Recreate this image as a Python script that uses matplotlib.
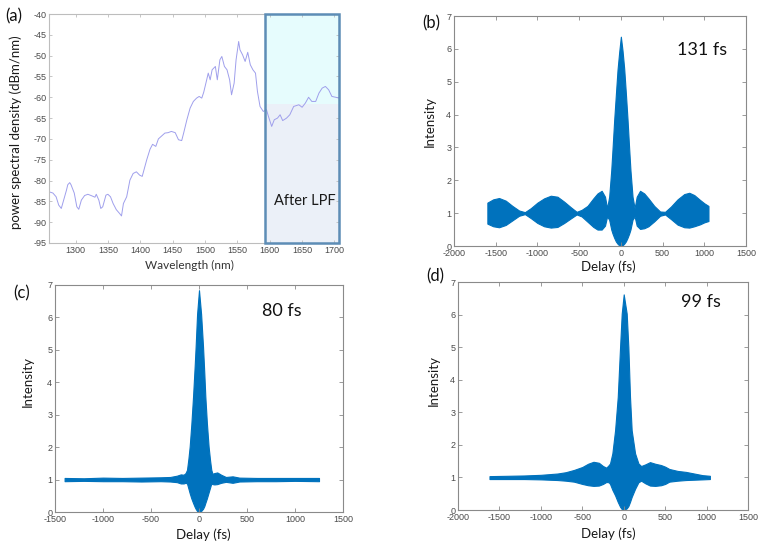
import matplotlib.pyplot as plt

plt.rcParams['axes.unicode_minus'] = False

# (a) spectrum after the fibre
wavelength = [1259, 1265, 1270, 1274, 1278, 1280, 1286, 1288, 1291, 1293, 1298, 1302, 1305,
              1309, 1314, 1319, 1324, 1330, 1332, 1336, 1339, 1342, 1347, 1350, 1354, 1358,
              1363, 1368, 1371, 1374, 1379, 1384, 1389, 1394, 1399, 1403, 1410, 1415, 1419,
              1424, 1428, 1433, 1438, 1443, 1448, 1454, 1459, 1464, 1467, 1472, 1477, 1482,
              1487, 1491, 1495, 1498, 1502, 1505, 1508, 1511, 1516, 1519, 1523, 1526, 1530,
              1534, 1538, 1541, 1545, 1548, 1552, 1554, 1558, 1562, 1566, 1570, 1574, 1578,
              1581, 1585, 1590, 1595, 1598, 1603, 1607, 1612, 1616, 1620, 1626, 1631, 1637,
              1645, 1650, 1655, 1660, 1665, 1671, 1676, 1681, 1686, 1691, 1696, 1702, 1707]
psd = [-82.7, -83.0, -83.9, -85.9, -86.7, -85.6, -82.3, -81.0, -80.5, -81.0, -83.0, -86.3, -86.9,
       -84.7, -83.6, -83.3, -83.6, -84.0, -83.3, -84.7, -86.7, -86.3, -83.5, -83.3, -83.9, -85.5,
       -87.0, -87.9, -88.5, -85.5, -83.9, -79.9, -78.3, -77.9, -78.7, -79.0, -75.0, -72.5, -71.3,
       -71.8, -70.0, -69.3, -68.6, -68.5, -68.2, -68.5, -70.2, -70.4, -68.6, -65.4, -62.6, -61.0,
       -60.2, -59.8, -60.2, -58.8, -56.2, -54.2, -55.8, -53.4, -52.6, -55.8, -51.0, -50.2, -52.6,
       -53.4, -55.8, -59.4, -56.6, -51.0, -46.6, -48.6, -49.8, -51.4, -49.2, -52.2, -53.4, -54.2,
       -58.6, -62.2, -63.4, -63.0, -64.6, -67.0, -65.4, -65.0, -64.2, -65.6, -65.0, -64.2, -62.2,
       -61.8, -62.4, -61.4, -60.0, -61.0, -61.0, -59.0, -57.8, -57.4, -58.2, -59.8, -60.0, -60.2]
lpf_start = 1592
lpf_split = -61.6

# (b) 131 fs autocorrelation: upper / lower envelope of the fringes
delay_b = [-1600, -1530, -1460, -1380, -1300, -1220, -1150, -1080, -1000, -920, -840, -760,
           -680, -600, -530, -470, -400, -330, -280, -230, -190, -165, -140, -115, -100, -80,
           -60, -40, -20, 0, 20, 40, 60, 80, 100, 115, 140, 165, 190, 230, 280, 330, 400, 470,
           530, 600, 680, 760, 820, 880, 950, 1000, 1050]
upper_b = [1.32, 1.42, 1.46, 1.38, 1.22, 1.08, 1.03, 1.15, 1.32, 1.45, 1.53, 1.50,
           1.35, 1.18, 1.04, 1.10, 1.22, 1.45, 1.60, 1.68, 1.50, 1.15, 1.50, 2.31, 2.95, 3.83,
           4.60, 5.36, 5.90, 6.37, 5.95, 5.40, 4.65, 3.85, 2.95, 2.31, 1.50, 1.15, 1.50, 1.68,
           1.60, 1.45, 1.22, 1.05, 1.04, 1.20, 1.42, 1.58, 1.62, 1.55, 1.40, 1.30, 1.22]
lower_b = [0.68, 0.60, 0.57, 0.64, 0.78, 0.92, 0.97, 0.85, 0.70, 0.60, 0.56, 0.58,
           0.70, 0.84, 0.96, 0.90, 0.74, 0.58, 0.50, 0.50, 0.62, 0.90, 0.80, 0.50, 0.38, 0.25,
           0.14, 0.07, 0.02, 0.00, 0.02, 0.07, 0.14, 0.25, 0.38, 0.50, 0.80, 0.90, 0.62, 0.52,
           0.54, 0.60, 0.75, 0.92, 0.96, 0.82, 0.65, 0.57, 0.56, 0.60, 0.66, 0.72, 0.76]

# (c) 80 fs autocorrelation
delay_c = [-1400, -1200, -1000, -800, -600, -400, -300, -230, -190, -160, -140, -125, -110,
           -97, -80, -62, -45, -35, -20, 0, 22, 42, 55, 66, 82, 100, 115, 128, 140, 160, 190,
           230, 280, 350, 420, 600, 800, 1000, 1250]
upper_c = [1.05, 1.04, 1.06, 1.05, 1.06, 1.07, 1.08, 1.12, 1.16, 1.15, 1.20, 1.30, 1.65,
           2.02, 2.70, 3.56, 4.50, 5.10, 6.10, 6.84, 6.10, 5.10, 4.30, 3.56, 2.75, 2.02, 1.60,
           1.30, 1.18, 1.20, 1.22, 1.15, 1.08, 1.10, 1.06, 1.05, 1.05, 1.05, 1.05]
lower_c = [0.95, 0.96, 0.95, 0.95, 0.94, 0.95, 0.94, 0.92, 0.88, 0.88, 0.90, 0.88, 0.72,
           0.58, 0.42, 0.28, 0.16, 0.10, 0.03, 0.00, 0.03, 0.10, 0.18, 0.28, 0.42, 0.60, 0.75,
           0.88, 0.86, 0.85, 0.86, 0.90, 0.93, 0.90, 0.94, 0.95, 0.95, 0.96, 0.95]

# (d) 99 fs autocorrelation
delay_d = [-1620, -1400, -1200, -1000, -800, -700, -600, -500, -430, -365, -300, -250, -210,
           -180, -165, -137, -104, -72, -44, -24, 0, 36, 56, 76, 96, 137, 177, 210, 260, 317,
           380, 450, 500, 550, 650, 750, 850, 950, 1040]
upper_d = [1.04, 1.05, 1.06, 1.08, 1.12, 1.16, 1.23, 1.32, 1.42, 1.48, 1.45, 1.35, 1.30,
           1.38, 1.43, 1.74, 2.45, 3.47, 5.00, 6.03, 6.62, 6.03, 5.00, 3.47, 2.45, 1.74, 1.43,
           1.35, 1.40, 1.47, 1.42, 1.38, 1.33, 1.26, 1.20, 1.17, 1.12, 1.07, 1.05]
lower_d = [0.95, 0.95, 0.95, 0.94, 0.92, 0.90, 0.87, 0.80, 0.76, 0.74, 0.75, 0.80, 0.86,
           0.85, 0.80, 0.62, 0.45, 0.25, 0.10, 0.03, 0.00, 0.05, 0.12, 0.25, 0.40, 0.65, 0.85,
           0.90, 0.82, 0.75, 0.74, 0.76, 0.80, 0.87, 0.90, 0.92, 0.93, 0.94, 0.95]

pulse_labels = ['131 fs', '80 fs', '99 fs']

W, H = 765, 548
fig = plt.figure(figsize=(W / 100, H / 100), dpi=100)
fig.patch.set_facecolor('white')

BLUE = '#0072BD'
TICK_FONT = dict(family='Liberation Sans', size=6.5, color='#4a4a4a')
LABEL_FONT = dict(family='Lato', size=9.5, color='#1a1a1a')


def box(left, top, right, bottom):
    # pixel box -> figure fraction rect
    return [left / W, 1 - bottom / H, (right - left) / W, (bottom - top) / H]


def style_axes(ax, spine_color):
    for s in ax.spines.values():
        s.set_color(spine_color)
        s.set_linewidth(0.8)
    ax.tick_params(direction='in', length=3, width=0.6, colors=spine_color,
                   top=True, right=True, pad=2)
    for lab in ax.get_xticklabels() + ax.get_yticklabels():
        lab.set_fontfamily(TICK_FONT['family'])
        lab.set_fontsize(TICK_FONT['size'])
        lab.set_color(TICK_FONT['color'])


# ---- (a) spectrum ----
ax_a = fig.add_axes(box(49, 14, 339, 243))
ax_a.set_xlim(1259, 1707)
ax_a.set_ylim(-95, -40)
ax_a.set_xticks(range(1300, 1701, 50))
ax_a.set_yticks(range(-95, -39, 5))
ax_a.axvspan(lpf_start, 1707, ymin=0, ymax=(lpf_split + 95) / 55, color='#ebf0f8', lw=0, zorder=0)
ax_a.axvspan(lpf_start, 1707, ymin=(lpf_split + 95) / 55, ymax=1, color='#e6fcfd', lw=0, zorder=0)
ax_a.add_patch(plt.Rectangle((lpf_start, -95), 1707 - lpf_start, 55, fill=False,
                             edgecolor='#5d8db6', lw=1.8, zorder=3, clip_on=False))
ax_a.plot(wavelength, psd, color='#9f9fec', lw=0.7, zorder=2)
ax_a.text(1654, -84.8, 'After LPF', ha='center', va='center', family='Lato', size=10.5,
          color='#1a1a1a')
style_axes(ax_a, '#bdbdbd')
ax_a.tick_params(length=2)
ax_a.set_xlabel('Wavelength (nm)', family='Lato', size=8.5, color='#333333')
ax_a.xaxis.set_label_coords(0.483, -0.10)
ax_a.xaxis.label.set_va('center')
ax_a.set_ylabel('power spectral density (dBm/nm)', family='Lato', size=9.5, color='#1a1a1a')
ax_a.yaxis.set_label_coords(-0.114, 0.485)
ax_a.yaxis.label.set_va('center')

# ---- autocorrelation panels ----
panels = [
    (box(454, 16, 746, 246), delay_b, upper_b, lower_b, (-2000, 1500), pulse_labels[0],
     (0.764, 0.852), (-0.082, 0.543), (0.527, -0.091)),
    (box(55, 285, 343, 512), delay_c, upper_c, lower_c, (-1500, 1500), pulse_labels[1],
     (0.719, 0.885), (-0.094, 0.577), (0.514, -0.101)),
    (box(458, 282, 748, 510), delay_d, upper_d, lower_d, (-2000, 1500), pulse_labels[2],
     (0.769, 0.912), (-0.083, 0.566), (0.517, -0.105)),
]

for rect, d, up, lo, xl, txt, tpos, ylpos, xlpos in panels:
    ax = fig.add_axes(rect)
    ax.fill_between(d, lo, up, color=BLUE, lw=0.8, edgecolor=BLUE)
    ax.set_xlim(*xl)
    ax.set_ylim(0, 7)
    ax.set_xticks(range(xl[0], xl[1] + 1, 500))
    ax.set_yticks(range(0, 8))
    style_axes(ax, '#8a8a8a')
    ax.text(tpos[0], tpos[1], txt, transform=ax.transAxes, ha='left', va='center',
            family='Lato', size=13, color='#111111')
    ax.set_ylabel('Intensity', **LABEL_FONT)
    ax.yaxis.set_label_coords(*ylpos)
    ax.yaxis.label.set_va('center')
    ax.set_xlabel('Delay (fs)', **LABEL_FONT)
    ax.xaxis.set_label_coords(*xlpos)
    ax.xaxis.label.set_va('center')

# panel letters
for letter, x, y in [('(a)', 14, 16), ('(b)', 431, 23), ('(c)', 22, 293), ('(d)', 435, 276)]:
    fig.text(x / W, 1 - y / H, letter, ha='center', va='center', family='Lato', size=12,
             color='#111111')

fig.savefig('out.png', dpi=100)
